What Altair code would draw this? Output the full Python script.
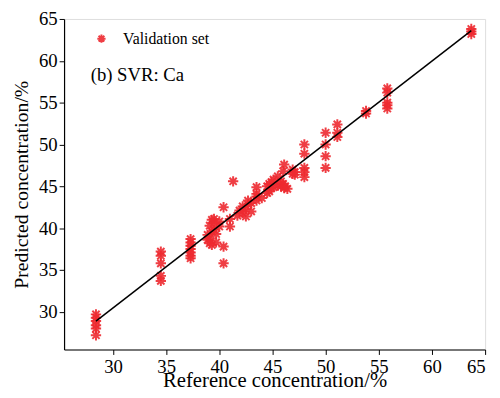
import altair as alt
import pandas as pd

# Validation set: reference vs predicted
ref_x = (
    [28.4] * 6
    + [34.5] * 5
    + [37.3] * 7
    + [38.9, 38.9, 39.1, 39.1, 39.1, 39.3, 39.3, 39.3, 39.5, 39.5, 39.5, 39.7, 39.7,
       40.0, 40.0, 40.4, 40.4, 40.4, 41.0, 41.0, 41.3, 41.7, 41.9, 42.2, 42.2,
       42.5, 42.5, 42.7, 42.7, 43.0, 43.0, 43.5, 43.5, 43.5, 43.5, 44.0, 44.5, 44.5,
       44.7, 44.7, 44.9, 44.9, 45.1, 45.1, 45.5, 45.5, 45.8, 45.8, 46.0, 46.0,
       46.1, 46.1, 46.2, 46.4, 46.9, 46.9, 47.1, 47.1]
    + [48.0] * 5
    + [50.0] * 4
    + [51.1] * 3
    + [53.8] * 2
    + [55.8] * 5
    + [63.7] * 3
)
pred_y = (
    [29.7, 29.3, 28.9, 28.4, 28.0, 27.2]
    + [37.2, 36.7, 35.8, 34.3, 33.7]
    + [38.7, 38.3, 37.9, 37.5, 37.1, 36.7, 36.4]
    + [39.2, 38.6, 40.3, 38.8, 38.2, 39.6, 38.0, 41.0, 41.1, 40.6, 39.8, 38.3, 39.3,
       40.8, 40.2, 42.5, 37.8, 35.8, 41.1, 40.2, 45.6, 41.5, 42.1, 41.8, 42.6,
       42.3, 41.4, 43.3, 42.8, 43.0, 42.0, 44.9, 44.1, 43.3, 43.8, 43.6, 44.2, 45.0,
       44.4, 45.3, 45.5, 44.8, 44.9, 45.8, 46.2, 45.1, 45.0, 45.6, 46.8, 45.3,
       47.6, 44.8, 45.0, 44.7, 47.0, 46.5, 46.7, 46.4]
    + [50.0, 48.9, 47.2, 46.7, 46.1]
    + [51.4, 50.0, 48.6, 47.2]
    + [52.4, 51.4, 50.9]
    + [53.7, 54.0]
    + [56.7, 56.2, 55.0, 54.7, 54.3]
    + [63.5, 63.2, 63.8]
)
series_name = "Validation set"

fit_x = [28.4, 63.7]
fit_y = [28.9, 63.6]

panel_label = "(b) SVR: Ca"
label_x = [27.9]
label_y = [57.6]

x_ticks = [30, 35, 40, 45, 50, 55, 60, 65]
y_ticks = [30, 35, 40, 45, 50, 55, 60, 65]

FONT = "Liberation Serif"
RED = "#ee2a30"
STAR = "M-1,0L1,0M0,-1L0,1M-0.7,-0.7L0.7,0.7M-0.7,0.7L0.7,-0.7"

pts = pd.DataFrame({"x": ref_x, "y": pred_y, "s": [series_name] * len(ref_x)})
fit = pd.DataFrame({"x": fit_x, "y": fit_y})
lab = pd.DataFrame({"x": label_x, "y": label_y, "t": [panel_label]})

xscale = alt.Scale(domain=[25.4, 65], nice=False, zero=False)
yscale = alt.Scale(domain=[25.5, 65], nice=False, zero=False)

xaxis = alt.Axis(values=x_ticks, title="Reference concentration/%", grid=False,
                 labelFont=FONT, titleFont=FONT, labelFontSize=19, titleFontSize=21,
                 titleFontWeight="normal", labelColor="black", titleColor="black",
                 domainColor="black", tickColor="black", tickSize=5, labelPadding=3,
                 titleBaseline="alphabetic", titleY=38, domainWidth=1.2)
yaxis = alt.Axis(values=y_ticks, title="Predicted concentration/%", grid=False,
                 labelFont=FONT, titleFont=FONT, labelFontSize=19, titleFontSize=20,
                 titleFontWeight="normal", labelColor="black", titleColor="black",
                 domainColor="black", tickColor="black", tickSize=5, labelPadding=2,
                 titlePadding=7, domainWidth=1.2)

points = alt.Chart(pts).mark_point(shape=STAR, filled=False, size=110, strokeWidth=2.0, opacity=0.9).encode(
    x=alt.X("x:Q", scale=xscale, axis=xaxis),
    y=alt.Y("y:Q", scale=yscale, axis=yaxis),
    color=alt.Color("s:N", scale=alt.Scale(domain=[series_name], range=[RED]),
                    legend=alt.Legend(title=None, orient="none", legendX=30, legendY=12,
                                      symbolType=STAR, symbolSize=70, symbolStrokeWidth=2,
                                      labelFont=FONT, labelFontSize=16, labelColor="black",
                                      labelOffset=14)),
)

line = alt.Chart(fit).mark_line(color="black", strokeWidth=1.5).encode(
    x=alt.X("x:Q", scale=xscale), y=alt.Y("y:Q", scale=yscale)
)

text = alt.Chart(lab).mark_text(font=FONT, fontSize=19, align="left", baseline="alphabetic", color="black").encode(
    x=alt.X("x:Q", scale=xscale), y=alt.Y("y:Q", scale=yscale), text="t:N"
)

chart = alt.layer(points, line, text).properties(
    width=428, height=336,
    autosize=alt.AutoSizeParams(type="none"),
    padding={"left": 57, "top": 8, "right": 7, "bottom": 38},
).configure_view(stroke=None).configure(background="white")

chart.save("out.html", embed_options={"renderer": "svg", "actions": False})
